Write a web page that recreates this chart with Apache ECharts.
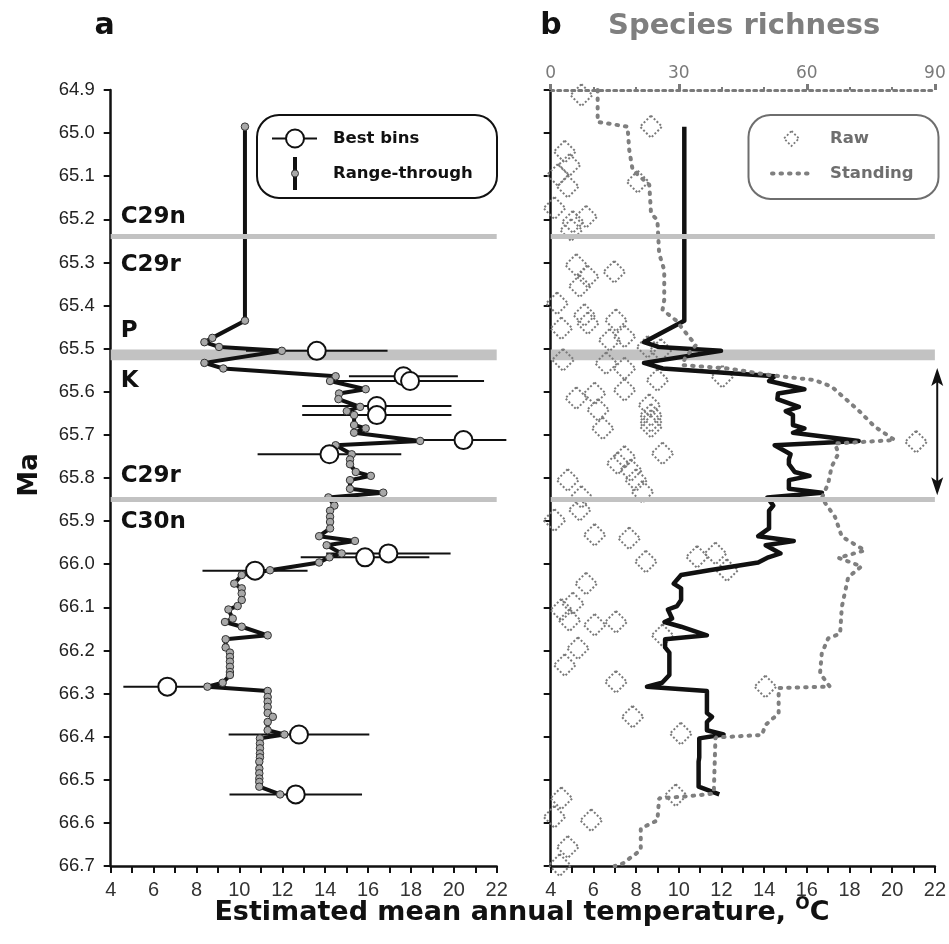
<!DOCTYPE html>
<html><head><meta charset="utf-8">
<script src="https://cdn.jsdelivr.net/npm/echarts@6/dist/echarts.min.js"></script>
<style>html,body{margin:0;padding:0;background:#fff}#c{width:949px;height:944px}</style>
</head><body><div id="c"></div>
<script>
// ---- data: [temperature °C, Ma]
const rangeThrough = [
[10.26,64.985],[10.26,65.435],[8.74,65.475],[8.37,65.485],[9.05,65.496],[11.98,65.505],[8.37,65.533],[9.25,65.546],
[14.49,65.564],[14.23,65.575],[15.89,65.594],[14.65,65.604],[14.62,65.617],[15.63,65.635],[15.01,65.645],[15.35,65.654],
[15.35,65.677],[15.89,65.685],[15.35,65.695],[18.43,65.714],[14.49,65.724],[15.24,65.745],[15.16,65.757],[15.16,65.768],
[15.43,65.786],[16.13,65.795],[15.16,65.805],[15.16,65.825],[16.71,65.834],[14.15,65.845],[14.43,65.864],[14.23,65.876],
[14.23,65.890],[14.23,65.902],[14.23,65.917],[13.72,65.935],[15.39,65.946],[14.07,65.956],[14.77,65.975],[14.20,65.984],
[13.72,65.996],[11.43,66.014],[10.11,66.025],[9.76,66.045],[10.11,66.056],[10.11,66.068],[10.11,66.083],[9.92,66.097],
[9.49,66.105],[9.69,66.126],[9.33,66.134],[10.11,66.145],[11.32,66.165],[9.36,66.174],[9.36,66.193],[9.56,66.205],
[9.56,66.215],[9.56,66.226],[9.56,66.238],[9.56,66.250],[9.56,66.257],[9.22,66.275],[8.51,66.284],[11.32,66.294],
[11.32,66.308],[11.32,66.319],[11.32,66.331],[11.32,66.345],[11.56,66.354],[11.32,66.366],[11.32,66.385],[12.10,66.395],
[10.96,66.404],[10.96,66.416],[10.96,66.427],[10.96,66.439],[10.96,66.448],[10.93,66.458],[10.93,66.474],[10.93,66.485],
[10.93,66.497],[10.93,66.505],[10.93,66.516],[11.90,66.534]
];
// [temperature, Ma, half-range of error bar]
const bestBins = [
[13.61,65.505,3.30],[17.65,65.564,2.54],[17.96,65.575,3.45],[16.41,65.633,3.48],[16.41,65.654,3.48],
[20.45,65.712,2.00],[14.20,65.745,3.35],[16.95,65.975,2.90],[15.86,65.984,3.00],[10.73,66.015,2.45],
[6.64,66.284,2.05],[12.78,66.395,3.28],[12.63,66.534,3.09]
];
// [species count, Ma]
const standing = [
[11.0,64.900],[11.0,64.974],[18.0,64.985],[18.4,65.039],[19.2,65.086],[23.1,65.120],[23.5,65.186],[25.0,65.202],
[25.4,65.279],[26.6,65.318],[26.6,65.387],[26.2,65.410],[29.3,65.434],[34.0,65.492],[31.6,65.519],[30.8,65.538],
[41.7,65.546],[51.1,65.561],[61.9,65.573],[65.8,65.588],[72.0,65.642],[75.9,65.681],[80.6,65.712],[66.6,65.720],
[67.4,65.743],[65.8,65.774],[65.0,65.813],[63.5,65.847],[66.6,65.890],[68.2,65.936],[73.6,65.968],[67.4,65.985],
[72.8,66.005],[69.7,66.030],[68.2,66.099],[67.8,66.161],[65.0,66.172],[63.5,66.207],[63.1,66.253],[65.4,66.284],
[53.4,66.287],[53.4,66.346],[50.3,66.373],[49.5,66.396],[38.6,66.402],[38.2,66.532],[32.4,66.538],[25.4,66.543],
[25.0,66.594],[21.1,66.613],[21.1,66.663],[16.9,66.694],[15.0,66.700]
];
const raw = [
[7.2,64.912],[23.5,64.985],[3.3,65.043],[4.4,65.074],[1.7,65.097],[4.0,65.124],[20.4,65.113],[0.9,65.174],
[8.3,65.194],[5.2,65.206],[4.8,65.225],[6.0,65.306],[14.9,65.322],[8.7,65.333],[6.8,65.355],[1.5,65.395],
[7.9,65.422],[8.7,65.441],[15.3,65.434],[2.5,65.453],[13.8,65.480],[17.3,65.472],[22.7,65.496],[25.8,65.503],
[2.9,65.526],[13.0,65.534],[17.3,65.546],[25.0,65.573],[40.2,65.565],[17.3,65.596],[10.3,65.604],[6.0,65.615],
[11.1,65.642],[23.1,65.631],[23.5,65.654],[23.5,65.668],[23.5,65.681],[12.2,65.685],[85.6,65.716],[26.2,65.743],
[17.3,65.751],[15.7,65.766],[18.8,65.782],[20.0,65.805],[4.0,65.805],[7.2,65.844],[21.5,65.832],[6.8,65.874],
[0.9,65.898],[10.3,65.932],[18.4,65.940],[22.3,65.994],[34.3,65.983],[38.6,65.975],[41.3,66.014],[8.3,66.045],
[5.2,66.091],[2.5,66.106],[4.4,66.130],[10.3,66.141],[15.3,66.134],[26.2,66.165],[6.4,66.195],[3.3,66.234],
[15.3,66.273],[50.3,66.284],[19.2,66.354],[30.5,66.393],[29.3,66.536],[2.5,66.543],[0.9,66.586],[9.5,66.594],
[4.0,66.656],[2.1,66.698]
];
const chronBoundaries = [65.243, 65.847];
const kpgBoundary = [65.502, 65.527];
const chronLabels = [['C29n',65.194],['C29r',65.305],['P',65.459],['K',65.575],['C29r',65.796],['C30n',65.902]];
const tempTickLabels = [4,6,8,10,12,14,16,18,20,22];
const speciesTickLabels = [0,30,60,90];
const arrowRange = [65.545, 65.84];

// ---- chart
const BOLD = "'DejaVu Sans', 'Liberation Sans', sans-serif";
const NARROW = "'Liberation Sans Narrow', 'Arial Narrow', 'Liberation Sans', sans-serif";
const chart = echarts.init(document.getElementById('c'), null, {renderer:'canvas'});

function tempAxis(g){
  return {gridIndex:g, type:'value', min:4, max:22, interval:1, position:'bottom',
    axisLine:{show:true, onZero:false, lineStyle:{color:'#111', width:2.5}},
    axisTick:{show:true, length:7, lineStyle:{color:'#111', width:2}},
    axisLabel:{margin:14, fontSize:20, color:'#333', fontFamily:NARROW,
      formatter:v=>tempTickLabels.indexOf(Math.round(v))>=0 ? String(Math.round(v)) : ''},
    splitLine:{show:false}};
}
function maAxis(g, labels){
  return {gridIndex:g, type:'value', inverse:true, min:64.9, max:66.7, interval:0.1,
    axisLine:{show:true, onZero:false, lineStyle:{color:'#111', width:2.5}},
    axisTick:{show:true, length:7, lineStyle:{color:'#111', width:2}},
    axisLabel:{show:labels, margin:16, fontSize:18.5, color:'#222', fontFamily:"'Liberation Sans', sans-serif",
      formatter:v=>v.toFixed(1)},
    splitLine:{show:false}};
}
function bandSeries(x, y){
  return {type:'line', xAxisIndex:x, yAxisIndex:y, data:[[4,64.9]], showSymbol:false, silent:true, z:0,
    lineStyle:{opacity:0},
    markLine:{silent:true, symbol:'none', label:{show:false}, animation:false,
      lineStyle:{color:'#c2c2c2', width:5, type:'solid'},
      data:chronBoundaries.map(v=>({yAxis:v}))},
    markArea:{silent:true, itemStyle:{color:'#c2c2c2'}, animation:false,
      data:[[{yAxis:kpgBoundary[0]},{yAxis:kpgBoundary[1]}]]}};
}

const option = {
  animation:false,
  backgroundColor:'#ffffff',
  grid:[
    {left:110.7, top:90, width:386, height:776},
    {left:550.7, top:90, width:386, height:776}
  ],
  xAxis:[
    tempAxis(0),
    tempAxis(1),
    {gridIndex:1, type:'value', position:'top', min:0, max:90, interval:30,
      axisLine:{show:true, lineStyle:{color:'#7a7a7a', width:3, type:[3,4]}},
      axisTick:{show:true, length:6, lineStyle:{color:'#7a7a7a', width:3}},
      minorTick:{show:true, splitNumber:3, length:3, lineStyle:{color:'#7a7a7a', width:2}},
      axisLabel:{color:'#7a7a7a', fontSize:17, margin:8, fontFamily:"'DejaVu Sans', sans-serif",
        formatter:v=>speciesTickLabels.indexOf(Math.round(v))>=0 ? String(Math.round(v)) : ''},
      splitLine:{show:false}, minorSplitLine:{show:false}}
  ],
  yAxis:[ maAxis(0,true), maAxis(1,false) ],
  series:[
    bandSeries(0,0),
    bandSeries(1,1),
    {type:'custom', name:'errorbars', xAxisIndex:0, yAxisIndex:0, z:2, silent:true,
      data:bestBins,
      renderItem:function(params, api){
        const t = api.value(0), ma = api.value(1), e = api.value(2);
        const p1 = api.coord([t-e, ma]), p2 = api.coord([t+e, ma]);
        return {type:'line', shape:{x1:p1[0], y1:p1[1], x2:p2[0], y2:p2[1]},
          style:{stroke:'#111', lineWidth:2}};
      }},
    {type:'line', name:'Range-through', xAxisIndex:0, yAxisIndex:0, z:3, data:rangeThrough,
      symbol:'circle', symbolSize:7.5, showAllSymbol:true,
      itemStyle:{color:'#a8a8a8', borderColor:'#333', borderWidth:1},
      lineStyle:{color:'#111', width:4, join:'round'}},
    {type:'scatter', name:'Best bins', xAxisIndex:0, yAxisIndex:0, z:4,
      data:bestBins.map(d=>[d[0], d[1]]), symbol:'circle', symbolSize:18,
      itemStyle:{color:'#fff', borderColor:'#111', borderWidth:2, opacity:1}},
    {type:'scatter', name:'Raw', xAxisIndex:2, yAxisIndex:1, z:2, data:raw,
      symbol:'diamond', symbolSize:22,
      itemStyle:{color:'rgba(255,255,255,0)', borderColor:'#7a7a7a', borderWidth:2, borderType:[2,2], opacity:1}},
    {type:'line', name:'Range-through b', xAxisIndex:1, yAxisIndex:1, z:3, data:rangeThrough,
      showSymbol:false, lineStyle:{color:'#111', width:4.5, join:'round'}},
    {type:'line', name:'Standing', xAxisIndex:2, yAxisIndex:1, z:4, data:standing,
      showSymbol:false, lineStyle:{color:'#7f7f7f', width:4, type:[1.5,7], cap:'round'}}
  ]
};
chart.setOption(option);

// ---- annotations
const px = (g, v) => chart.convertToPixel({gridIndex:g}, v);
const g = [];
function txt(x, y, s, size, opts){
  return {type:'text', x:x, y:y, z:100, style:Object.assign({text:s, fontSize:size, fontWeight:'bold',
    fontFamily:BOLD, fill:'#111', align:'left', verticalAlign:'middle'}, opts||{})};
}
g.push(txt(104.5, 26, 'a', 30, {align:'center'}));
g.push(txt(551, 26, 'b', 30, {align:'center'}));
g.push(txt(608, 26, 'Species richness', 29, {fill:'#7f7f7f'}));
g.push({type:'text', x:30, y:475, rotation:Math.PI/2, z:100,
  style:{text:'Ma', fontSize:26, fontWeight:'bold', fontFamily:BOLD, fill:'#111', align:'center', verticalAlign:'middle'}});

// chron labels
chronLabels.forEach(([s, ma])=>{
  const p = px(0, [4, ma]);
  g.push(txt(p[0]+10, p[1], s, 23));
});

// axis title with superscript
(function(){
  const c = document.createElement('canvas').getContext('2d');
  const mainS = 'Estimated mean annual temperature, ';
  c.font = 'bold 27px ' + BOLD; const w1 = c.measureText(mainS).width;
  c.font = 'bold 17px ' + BOLD; const w2 = c.measureText('O').width;
  c.font = 'bold 27px ' + BOLD; const w3 = c.measureText('C').width;
  const total = w1 + w2 + w3; const x0 = 522 - total/2; const yb = 913;
  g.push(txt(x0, yb, mainS, 27));
  g.push(txt(x0+w1, yb-8, 'O', 17));
  g.push(txt(x0+w1+w2, yb, 'C', 27));
})();

// legend a
g.push({type:'rect', z:90, shape:{x:257, y:115, width:240, height:83, r:22},
  style:{fill:'#fff', stroke:'#111', lineWidth:2}});
g.push({type:'line', z:91, shape:{x1:272, y1:138.5, x2:317, y2:138.5}, style:{stroke:'#111', lineWidth:2}});
g.push({type:'circle', z:92, shape:{cx:295, cy:138.5, r:9}, style:{fill:'#fff', stroke:'#111', lineWidth:2}});
g.push(txt(333, 138.5, 'Best bins', 16.5));
g.push({type:'rect', z:91, shape:{x:293, y:157, width:4, height:33}, style:{fill:'#111'}});
g.push({type:'circle', z:92, shape:{cx:295, cy:173.5, r:3.5}, style:{fill:'#a8a8a8', stroke:'#333', lineWidth:1}});
g.push(txt(333, 173.5, 'Range-through', 16.5));

// legend b
g.push({type:'rect', z:90, shape:{x:748.5, y:115, width:190, height:84, r:22},
  style:{fill:'#fff', stroke:'#6e6e6e', lineWidth:2}});
g.push({type:'polygon', z:91, shape:{points:[[791.5,131],[799,138.5],[791.5,146],[784,138.5]]},
  style:{fill:'none', stroke:'#7a7a7a', lineWidth:1.8, lineDash:[2,2]}});
g.push(txt(830, 138.5, 'Raw', 16.5, {fill:'#6e6e6e'}));
g.push({type:'line', z:91, shape:{x1:772, y1:173.5, x2:814, y2:173.5},
  style:{stroke:'#7f7f7f', lineWidth:4, lineDash:[1.5,7], lineCap:'round'}});
g.push(txt(830, 173.5, 'Standing', 16.5, {fill:'#6e6e6e'}));

// double arrow
(function(){
  const a = px(1, [22.11, arrowRange[0]]), b = px(1, [22.11, arrowRange[1]]);
  const x = a[0];
  g.push({type:'line', z:95, shape:{x1:x, y1:a[1]+6, x2:x, y2:b[1]-6}, style:{stroke:'#111', lineWidth:2}});
  g.push({type:'polygon', z:95, shape:{points:[[x,a[1]],[x+6,a[1]+18],[x,a[1]+14],[x-6,a[1]+18]]}, style:{fill:'#111'}});
  g.push({type:'polygon', z:95, shape:{points:[[x,b[1]],[x+6,b[1]-18],[x,b[1]-14],[x-6,b[1]-18]]}, style:{fill:'#111'}});
})();

chart.setOption({graphic:g});
</script></body></html>
